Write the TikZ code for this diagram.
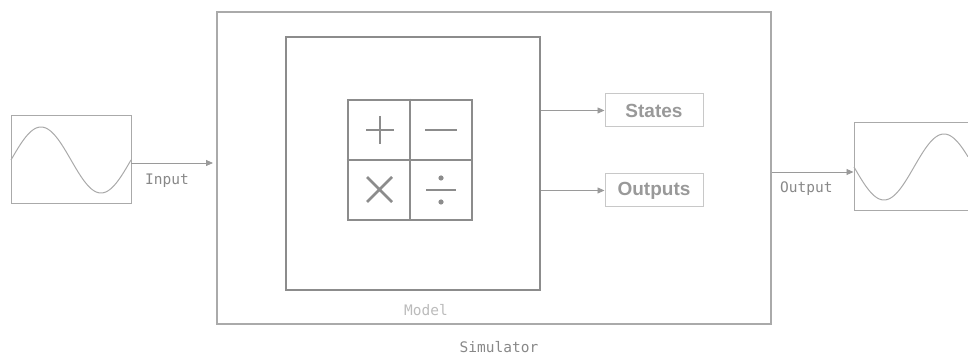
\documentclass[tikz,border=0pt]{standalone}
\usepackage{fontspec}
\setmainfont{Liberation Sans}
\setmonofont{DejaVu Sans Mono}
\usetikzlibrary{arrows.meta,calc}
\definecolor{simc}{HTML}{AAAAAA}
\definecolor{modc}{HTML}{8C8C8C}
\definecolor{arrc}{HTML}{9A9A9A}
\definecolor{boxc}{HTML}{C8C8C8}
\definecolor{txtc}{HTML}{999999}
\definecolor{lblc}{HTML}{888888}
\definecolor{mlblc}{HTML}{BBBBBB}
\tikzset{
  conn/.style={draw=arrc, line width=0.8pt, -{Triangle[length=7pt,width=6pt]}},
  outbox/.style={draw=boxc, line width=1pt, minimum width=98pt, minimum height=33pt, inner sep=0pt,
     font=\fontsize{19}{20}\selectfont\bfseries, text=txtc},
  lbl/.style={font=\ttfamily\fontsize{14.5}{16}\selectfont, text=lblc, inner sep=0pt},
  wave/.style={draw=simc, line width=1pt}
}
\begin{document}
\begin{tikzpicture}[x=1pt,y=-1pt]
\useasboundingbox (0,0) rectangle (968,355);
% simulator
\node[draw=simc, line width=2pt, minimum width=554pt, minimum height=312pt, inner sep=0pt] (sim) at (494,168) {};
% model
\node[draw=modc, line width=2.4pt, minimum width=254pt, minimum height=253pt, inner sep=0pt] (model) at (413,163.5) {};
% grid
\node[draw=modc, line width=2.6pt, minimum width=124pt, minimum height=120pt, inner sep=0pt] (grid) at (410,160) {};
\draw[modc, line width=2.6pt] (grid.north) -- (grid.south);
\draw[modc, line width=2.6pt] (grid.west) -- (grid.east);
\begin{scope}[modc, line width=2.6pt]
  \draw (366,130) -- (394,130) (380,116) -- (380,144);
  \draw (425,130) -- (457,130);
  \draw (367,177) -- (392,202) (367,202) -- (392,177);
  \draw (426,190) -- (456,190);
  \fill (441,178) circle (2.6pt) (441,202) circle (2.6pt);
\end{scope}
% states / outputs
\node[outbox] (states) at (654,110.5) {States};
\node[outbox] (outputs) at (654,190.5) {Outputs};
\coordinate (ms) at (model.east |- states.west);
\coordinate (mo) at (model.east |- outputs.west);
\draw[conn] (ms) -- (states.west);
\draw[conn] (mo) -- (outputs.west);
% input
\node[draw=simc, line width=1pt, minimum width=120pt, minimum height=88pt, inner sep=0pt] (inbox) at (71,160) {};
\draw[wave] plot[domain=0:120, samples=80, smooth] ({11+\x}, {160-33*sin(3*\x)});
\coordinate (inA) at (131,163);
\coordinate (inB) at (sim.west |- inA);
\draw[conn] (inA) -- ($(inB)+(-3,0)$);
\node[lbl, anchor=west] (inlbl) at (145,181) {Input};
% output
\node[draw=simc, line width=1pt, minimum width=120pt, minimum height=88pt, inner sep=0pt] (outbox) at (914,167) {};
\draw[wave] plot[domain=0:114, samples=80, smooth] ({854+\x}, {167+33*sin(3*\x)});
\coordinate (outA) at (sim.east |- 0,172);
\coordinate (outB) at (outbox.west |- outA);
\draw[conn] (outA) -- (outB);
\node[lbl, anchor=west] (outlbl) at (780,189) {Output};
% labels
\node[lbl, text=mlblc] (mlbl) at (426,310) {Model};
\node[lbl] (slbl) at (499,347) {Simulator};
\end{tikzpicture}
\end{document}
